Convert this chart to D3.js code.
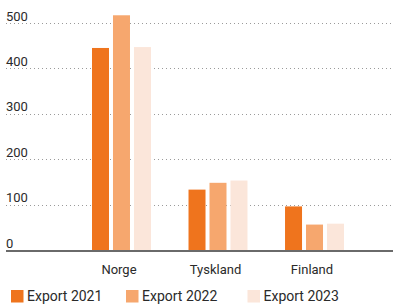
<!DOCTYPE html>
<html><head><meta charset="utf-8">
<script src="https://cdn.jsdelivr.net/npm/d3@7"></script>
<style>
html,body{margin:0;padding:0;background:#fff;}
svg{display:block;font-family:Roboto, "Open Sans", sans-serif;}
</style></head>
<body><div id="chart"></div>
<script>
const categories = ["Norge", "Tyskland", "Finland"];
const seriesNames = ["Export 2021", "Export 2022", "Export 2023"];
const export2021 = [445, 133, 96];
const export2022 = [517, 148, 56];
const export2023 = [447, 153, 58];
const yTicks = [0, 100, 200, 300, 400, 500];
const colors = ["#ef741d", "#f6a76e", "#fbe6da"];

const seriesValues = [export2021, export2022, export2023];
const W = 393, H = 305;
const svg = d3.select("#chart").append("svg").attr("width", W).attr("height", H);

const y = d3.scaleLinear().domain([0, 500]).range([250, 23]);
const x0 = d3.scaleBand().domain(categories).range([92, 344]).paddingInner(0.389).paddingOuter(0);
const x1 = d3.scaleBand().domain(seriesNames).range([0, x0.bandwidth()]).paddingInner(0.19).paddingOuter(0);

// grid
const grid = svg.append("g");
grid.selectAll("line").data(yTicks.filter(d => d > 0)).join("line")
  .attr("x1", 6).attr("x2", W)
  .attr("y1", d => Math.round(y(d)) + 0.5).attr("y2", d => Math.round(y(d)) + 0.5)
  .attr("stroke", "#9a9a9a").attr("stroke-width", 1).attr("stroke-dasharray", "1,3");

grid.selectAll("text").data(yTicks).join("text")
  .attr("x", 6).attr("y", d => y(d) - 2.5)
  .attr("font-size", 13).attr("fill", "#2a2a2a")
  .text(d => d);

// bars
const groups = svg.append("g").selectAll("g").data(categories).join("g")
  .attr("transform", c => `translate(${x0(c)},0)`);
groups.selectAll("rect").data((c, i) => seriesNames.map((s, j) => ({s, v: seriesValues[j][i], j})))
  .join("rect")
  .attr("x", d => x1(d.s)).attr("width", x1.bandwidth())
  .attr("y", d => y(d.v)).attr("height", d => y(0) - y(d.v))
  .attr("fill", d => colors[d.j]);

// baseline
svg.append("line").attr("x1", 6).attr("x2", W).attr("y1", 251).attr("y2", 251)
  .attr("stroke", "#6a6a6a").attr("stroke-width", 2);

// x labels
svg.append("g").selectAll("text").data(categories).join("text")
  .attr("x", c => x0(c) + x0.bandwidth() / 2 - 2.5).attr("y", 273.5)
  .attr("text-anchor", "middle").attr("font-size", 13).attr("fill", "#2a2a2a")
  .text(c => c);

// legend
const legX = [11, 126, 247.5];
const leg = svg.append("g").selectAll("g").data(seriesNames).join("g")
  .attr("transform", (d, i) => `translate(${legX[i]},290)`);
leg.append("rect").attr("width", 12.5).attr("height", 12.5).attr("fill", (d, i) => colors[i]);
leg.append("text").attr("x", 16).attr("y", 11).attr("font-size", 14).attr("fill", "#2a2a2a").text(d => d);
</script></body></html>
